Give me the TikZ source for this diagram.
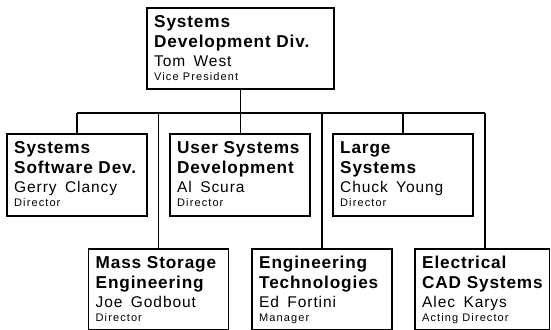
\documentclass[tikz,border=0pt]{standalone}
\usepackage{fontspec}
\usetikzlibrary{calc}
\newfontfamily\unittitlefont{Liberation Sans}[LetterSpace=5]
\newfontfamily\unitpersonfont{Liberation Sans}[LetterSpace=6,WordSpace=1.6]
\newfontfamily\unitrolefont{Liberation Sans}[LetterSpace=10]
\tikzset{
  unitbox/.style={draw=black, line width=1.4pt, fill=white, rectangle, inner sep=0pt, outer sep=0pt, anchor=north west},
  titletxt/.style={inner sep=0pt, anchor=base west, font=\unittitlefont\bfseries\fontsize{17.2}{20}\selectfont},
  persontxt/.style={inner sep=0pt, anchor=base west, font=\unitpersonfont\fontsize{15.5}{18}\selectfont},
  roletxt/.style={inner sep=0pt, anchor=base west, font=\unitrolefont\fontsize{11}{12}\selectfont},
  conn/.style={draw=black, line width=1.4pt}
}
% #1 name, #2 x, #3 y, #4 w, #5 h, #6 title1, #7 title2, #8 person, #9 role
\newcommand\OrgUnit[9]{%
  \node[unitbox, minimum width=#4pt, minimum height=#5pt] (#1) at (#2,#3) {};
  \node[titletxt] (#1-ta) at ($(#1.north west)+(7,19.5)$) {#6};
  \node[titletxt] (#1-tb) at ($(#1.north west)+(7,39.5)$) {#7};
  \node[persontxt] (#1-p) at ($(#1.north west)+(7,58.5)$) {#8};
  \node[roletxt] (#1-r) at ($(#1.north west)+(7,72)$) {#9};
}
\begin{document}
\begin{tikzpicture}[x=1pt,y=-1pt]
\useasboundingbox[fill=white] (0,0) rectangle (551,329);
\begin{scope}
\clip (0,0) rectangle (551,329);
\coordinate (bus-l) at (77,113);
\coordinate (bus-r) at (485,113);
\OrgUnit{top}{147}{8}{187}{81}{Systems}{Development Div.}{Tom West}{Vice President}
\OrgUnit{ssd}{7}{134}{140}{82}{Systems}{Software Dev.}{Gerry Clancy}{Director}
\OrgUnit{usd}{170}{134}{140}{82}{User Systems}{Development}{Al Scura}{Director}
\OrgUnit{ls}{333}{134}{140}{82}{Large}{Systems}{Chuck Young}{Director}
\OrgUnit{mse}{88.5}{249}{140}{81}{Mass Storage}{Engineering}{Joe Godbout}{Director}
\OrgUnit{et}{252}{249}{140}{81}{Engineering}{Technologies}{Ed Fortini}{Manager}
\OrgUnit{ecad}{415}{249}{134.5}{81}{Electrical}{CAD Systems}{Alec Karys}{Acting Director}
\draw[conn] (top.south) -- (top.south |- usd.north);
\draw[conn] (bus-l) -- (bus-r);
\draw[conn] (bus-l) -- (bus-l |- ssd.north);
\draw[conn] (ls.north) -- (ls.north |- bus-r);
\draw[conn] (mse.north) -- (mse.north |- bus-l);
\draw[conn] (et.north) -- (et.north |- bus-l);
\draw[conn] (bus-r) -- (bus-r |- ecad.north);
\end{scope}
\end{tikzpicture}
\end{document}
